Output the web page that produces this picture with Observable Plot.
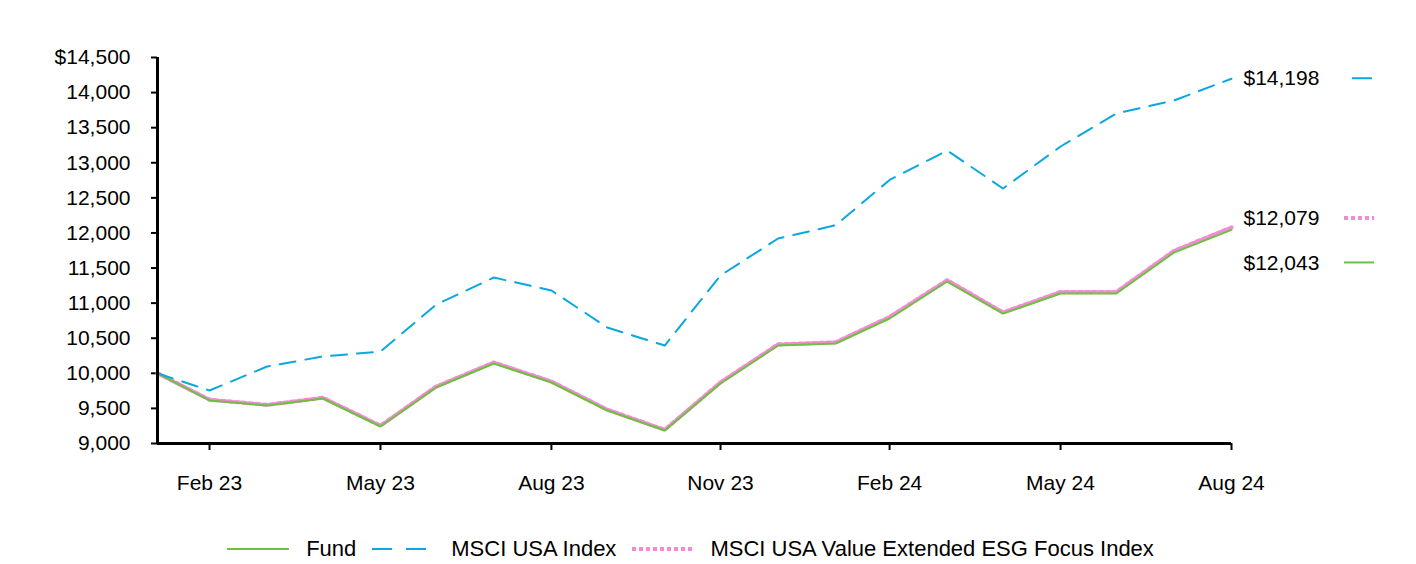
<!DOCTYPE html>
<html>
<head>
<meta charset="utf-8">
<script src="https://cdn.jsdelivr.net/npm/d3@7"></script>
<script src="https://cdn.jsdelivr.net/npm/@observablehq/plot@0.6"></script>
<style>
  html, body { margin: 0; padding: 0; background: #fff; }
  body { width: 1416px; height: 564px; overflow: hidden; font-family: "Liberation Sans", Arial, sans-serif; }
  #legend { display: flex; justify-content: center; align-items: center; font-size: 22px; color: #000; margin-top: 16px; padding-right: 35px; }
  #legend .item { display: flex; align-items: center; }
  #legend svg { display: block; }
</style>
</head>
<body>
<div id="chart"></div>
<div id="legend"></div>
<script>
const dates = ["2023-01-31","2023-02-28","2023-03-31","2023-04-30","2023-05-31","2023-06-30","2023-07-31","2023-08-31","2023-09-30","2023-10-31","2023-11-30","2023-12-31","2024-01-31","2024-02-29","2024-03-31","2024-04-30","2024-05-31","2024-06-30","2024-07-31","2024-08-31"];
const fund =      [10000, 9613, 9541, 9641, 9242, 9798, 10140, 9869, 9470, 9185, 9855, 10396, 10425, 10781, 11308, 10850, 11137, 11137, 11720, 12043];
const msciUsa =   [10000, 9755, 10097, 10240, 10310, 10980, 11365, 11180, 10653, 10396, 11394, 11921, 12110, 12755, 13175, 12633, 13232, 13702, 13887, 14198];
const valueEsg =  [10000, 9625, 9552, 9652, 9255, 9812, 10155, 9884, 9484, 9196, 9872, 10414, 10442, 10804, 11328, 10868, 11160, 11160, 11745, 12079];
const seriesNames = ["Fund", "MSCI USA Index", "MSCI USA Value Extended ESG Focus Index"];
const yTicks = [9000, 9500, 10000, 10500, 11000, 11500, 12000, 12500, 13000, 13500, 14000, 14500];
const xTickDates = ["2023-02-28","2023-05-31","2023-08-31","2023-11-30","2024-02-29","2024-05-31","2024-08-31"];

const parse = d3.utcParse("%Y-%m-%d");
const D = dates.map(parse);
const colors = {"Fund": "#6cc13f", "MSCI USA Index": "#0aa8e0", "MSCI USA Value Extended ESG Focus Index": "#f48ad6"};
const dash = {"Fund": null, "MSCI USA Index": "16,10", "MSCI USA Value Extended ESG Focus Index": "4,3"};
const widths = {"Fund": 2, "MSCI USA Index": 2, "MSCI USA Value Extended ESG Focus Index": 4};
const valuesBy = {"Fund": fund, "MSCI USA Index": msciUsa, "MSCI USA Value Extended ESG Focus Index": valueEsg};
const rows = s => D.map((d, i) => ({date: d, value: valuesBy[s][i], series: s}));

const last = D[D.length - 1];
const endLabels = [
  {series: "MSCI USA Index", value: msciUsa[msciUsa.length - 1], dy: 0},
  {series: "MSCI USA Value Extended ESG Focus Index", value: valueEsg[valueEsg.length - 1], dy: -9},
  {series: "Fund", value: fund[fund.length - 1], dy: 33}
];
const fmt = d3.format(",");

const swatchMark = (index, scales, values, dims) => {
  const g = d3.create("svg:g");
  const x0 = scales.x(last);
  for (const e of endLabels) {
    const y = scales.y(e.value) + e.dy;
    g.append("line")
      .attr("x1", x0 + 113).attr("x2", x0 + 143)
      .attr("y1", y).attr("y2", y)
      .attr("stroke", colors[e.series])
      .attr("stroke-width", widths[e.series])
      .attr("stroke-dasharray", e.series === "MSCI USA Index" ? "0,8,20,40" : dash[e.series]);
  }
  return g.node();
};

const chart = Plot.plot({
  width: 1416,
  height: 520,
  marginLeft: 157,
  marginRight: 185,
  marginTop: 57,
  marginBottom: 77,
  style: {fontFamily: "'Liberation Sans', Arial, sans-serif", fontSize: "21px", color: "#000", background: "#fff"},
  x: {type: "utc", domain: [D[0], last]},
  y: {domain: [9000, 14500]},
  marks: [
    Plot.axisY({ticks: yTicks, tickSize: 6, tickPadding: 21, tickFormat: d => d === 14500 ? "$" + fmt(d) : fmt(d), label: null, fontSize: 21, stroke: "#000", strokeWidth: 2}),
    Plot.axisX({ticks: xTickDates.map(parse), tickSize: 7, tickPadding: 25, tickFormat: d3.utcFormat("%b %y"), label: null, fontSize: 21, stroke: "#000", strokeWidth: 2}),
    Plot.line(rows(seriesNames[2]), {x: "date", y: "value", stroke: colors[seriesNames[2]], strokeWidth: 4, strokeDasharray: "4,3"}),
    Plot.line(rows(seriesNames[0]), {x: "date", y: "value", stroke: colors[seriesNames[0]], strokeWidth: 2}),
    Plot.line(rows(seriesNames[1]), {x: "date", y: "value", stroke: colors[seriesNames[1]], strokeWidth: 2, strokeDasharray: "16,10"}),
    Plot.ruleY([9000], {stroke: "#000", strokeWidth: 3}),
    Plot.ruleX([D[0]], {stroke: "#000", strokeWidth: 3}),
    ...endLabels.map(e => Plot.text([e], {x: () => last, y: "value", text: d => "$" + fmt(d.value), textAnchor: "start", dx: 12, dy: e.dy, fontSize: 21, fill: "#000"})),
    swatchMark
  ]
});
document.getElementById("chart").appendChild(chart);

// Legend
const legend = document.getElementById("legend");
const legendItems = [
  {name: "Fund", w: 62, textGap: 17},
  {name: "MSCI USA Index", w: 54, textGap: 25},
  {name: "MSCI USA Value Extended ESG Focus Index", w: 60, textGap: 18}
];
legendItems.forEach((it, i) => {
  const item = document.createElement("div");
  item.className = "item";
  item.style.marginRight = (i < legendItems.length - 1 ? 16 : 0) + "px";
  const s = d3.create("svg").attr("width", it.w).attr("height", 20);
  s.append("line").attr("x1", 0).attr("x2", it.w).attr("y1", 10).attr("y2", 10)
    .attr("stroke", colors[it.name]).attr("stroke-width", widths[it.name])
    .attr("stroke-dasharray", it.name === "MSCI USA Index" ? "20,14" : dash[it.name]);
  item.appendChild(s.node());
  const t = document.createElement("span");
  t.textContent = it.name;
  t.style.marginLeft = it.textGap + "px";
  item.appendChild(t);
  legend.appendChild(item);
});
</script>
</body>
</html>
